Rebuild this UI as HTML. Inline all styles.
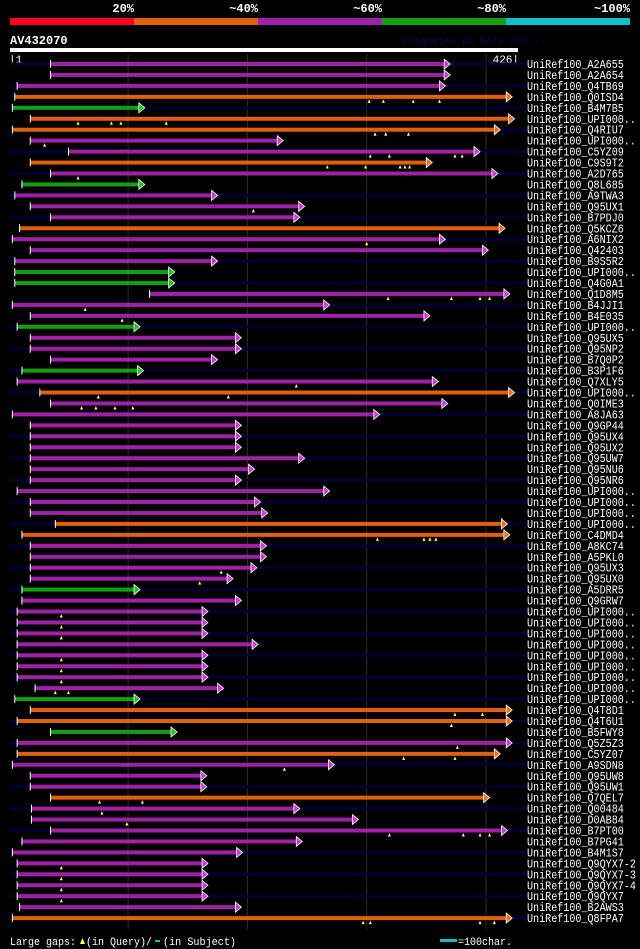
<!DOCTYPE html>
<html><head><meta charset="utf-8"><style>
html,body{margin:0;padding:0;background:#000;}
svg{display:block;}
text{font-family:"Liberation Mono",monospace;}
</style></head><body>
<svg id="chart" width="640" height="949" viewBox="0 0 640 949" xmlns="http://www.w3.org/2000/svg">
<rect x="0" y="0" width="640" height="949" fill="#000"/>
<g>
<rect x="10" y="18" width="124" height="7" fill="#ff0022"/>
<rect x="134" y="18" width="124" height="7" fill="#e06010"/>
<rect x="258" y="18" width="124" height="7" fill="#a020a8"/>
<rect x="382" y="18" width="124" height="7" fill="#10a010"/>
<rect x="506" y="18" width="124" height="7" fill="#10c0c8"/>
<text x="134" y="12" fill="#fff" font-size="12" font-weight="bold" text-anchor="end">20%</text>
<text x="258" y="12" fill="#fff" font-size="12" font-weight="bold" text-anchor="end">~40%</text>
<text x="382" y="12" fill="#fff" font-size="12" font-weight="bold" text-anchor="end">~60%</text>
<text x="506" y="12" fill="#fff" font-size="12" font-weight="bold" text-anchor="end">~80%</text>
<text x="630" y="12" fill="#fff" font-size="12" font-weight="bold" text-anchor="end">~100%</text>
</g>
<text x="10" y="44" fill="#fff" font-size="12" font-weight="bold">AV432070</text>
<text x="402" y="44" fill="#0a0a50" font-size="10">AlignView.pm Beta rel.7</text>
<rect x="10" y="48" width="508" height="4" fill="#fff"/>
<text x="9" y="63" fill="#fff" font-size="11">|1</text>
<text x="519" y="63" fill="#fff" font-size="11" text-anchor="end">426|</text>
<g id="grid"></g>
<g id="rows"></g>
<g>
<text x="10" y="945" fill="#fff" font-size="11" textLength="66" lengthAdjust="spacingAndGlyphs">Large gaps:</text>
<polygon points="80,944 85,944 82.5,938" fill="#ffff66"/>
<text x="86" y="945" fill="#fff" font-size="11" textLength="66" lengthAdjust="spacingAndGlyphs">(in Query)/</text>
<rect x="155" y="940" width="5" height="2" fill="#10c0c8"/>
<text x="163" y="945" fill="#fff" font-size="11" textLength="73" lengthAdjust="spacingAndGlyphs">(in Subject)</text>
<rect x="440" y="939" width="17" height="3" fill="#10c0c8"/>
<text x="458" y="945" fill="#fff" font-size="11" textLength="54" lengthAdjust="spacingAndGlyphs">=100char.</text>
</g>
</svg>
<script>
const names=["A2A655","A2A654","Q4TB69","Q0ISD4","B4M7B5","UPI000..","Q4RIU7","UPI000..","C5YZ09","C9S9T2","A2D765","Q8L685","A9TWA3","Q95UX1","B7PDJ0","Q5KCZ6","A6NIX2","Q42403","B9S5R2","UPI000..","Q4G0A1","Q1D8M5","B4JJI1","B4E035","UPI000..","Q95UX5","Q95NP2","B7Q0P2","B3P1F6","Q7XLY5","UPI000..","Q0IME3","A8JA63","Q9GP44","Q95UX4","Q95UX2","Q95UW7","Q95NU6","Q95NR6","UPI000..","UPI000..","UPI000..","UPI000..","C4DMD4","A8KC74","A5PKL0","Q95UX3","Q95UX0","A5DRR5","Q9GRW7","UPI000..","UPI000..","UPI000..","UPI000..","UPI000..","UPI000..","UPI000..","UPI000..","UPI000..","Q4T8D1","Q4T6U1","B5FWY8","Q5Z5Z3","C5YZ07","A9SDN8","Q95UW8","Q95UW1","Q7QEL7","Q00484","D0AB84","B7PT00","B7PG41","B4M1S7","Q9QYX7-2","Q9QYX7-3","Q9QYX7-4","Q9QYX7","B2AWS3","Q8FPA7"];
const starts=[35,35,7,5,3,18,3,18,50,18,35,11,5,18,35,9,3,18,5,5,5,118,3,18,7,18,18,35,11,7,26,35,3,18,18,18,18,18,18,7,18,18,39,11,18,18,18,18,11,11,7,7,7,7,7,7,7,22,5,18,7,35,7,7,3,18,18,35,19,19,35,11,3,7,7,7,7,9,3];
const ends=[370,370,366,422,114,424,412,230,395,355,410,114,175,248,244,416,366,402,175,139,139,420,269,353,110,195,195,175,113,360,424,368,311,195,195,195,248,206,195,269,211,217,418,420,216,216,208,188,110,195,167,167,167,209,167,167,167,180,110,422,422,141,422,412,273,166,166,403,244,293,418,246,196,167,167,167,167,195,422];
const identity=["p","p","p","o","g","o","o","p","p","o","p","g","p","p","p","o","p","p","p","g","g","p","p","p","g","p","p","p","g","p","o","p","p","p","p","p","p","p","p","p","p","p","o","o","p","p","p","p","g","p","p","p","p","p","p","p","p","p","g","o","o","g","p","o","p","p","p","o","p","p","p","p","p","p","p","p","p","p","o"];
const queryGaps=[[],[],[],[302,314,339,361],[],[58,86,94,132],[307,316,335],[30],[303,319,374,380],[267,299,328,332,336],[58],[],[],[205],[],[],[300],[],[],[],[],[318,371,395,403],[64],[95],[],[],[],[],[],[241],[75,184],[61,73,89,104],[],[],[],[],[],[],[],[],[],[],[],[309,348,353,358],[],[],[178],[160],[],[],[44],[44],[44],[],[44],[44],[44],[39,50],[],[374,397],[371],[],[376],[331,374],[231],[],[],[76,112],[78],[99],[319,381,395,403],[],[],[44],[44],[44],[44],[],[297,303,395,407]];
const colorMap={p:"#a020a8",o:"#e06010",g:"#10a010"};
const headMap={p:"#c040d0",o:"#f07020",g:"#20c020"};
const NS="http://www.w3.org/2000/svg";
function xScale(r){return 10+(r-1)*(507/425);}
function yRow(i){return 64+i*10.95;}
const grid=document.getElementById("grid");
const rows=document.getElementById("rows");
[100,200,300,400].forEach(function(t){
  const l=document.createElementNS(NS,"line");
  
  
  l.setAttribute("x1",xScale(t));l.setAttribute("x2",xScale(t));
  l.setAttribute("y1",54);l.setAttribute("y2",929);
  l.setAttribute("stroke","#30301a");l.setAttribute("stroke-width","1");
  grid.appendChild(l);
});
names.forEach(function(n,i){
  const y=yRow(i);
  const g=document.createElementNS(NS,"g");
  
  
  if(i%2===0){
    const bg=document.createElementNS(NS,"rect");
    
    
    bg.setAttribute("x",10);bg.setAttribute("y",y-1.5);bg.setAttribute("width",517);bg.setAttribute("height",3);
    bg.setAttribute("fill","#000033");
    g.appendChild(bg);
  }
  const x1=xScale(starts[i]),x2=xScale(ends[i]);
  const c=colorMap[identity[i]];
  const b=document.createElementNS(NS,"rect");
  
  
  b.setAttribute("x",x1);b.setAttribute("y",y-2);b.setAttribute("width",Math.max(0,x2-x1-5));b.setAttribute("height",4);
  b.setAttribute("fill",c);
  g.appendChild(b);
  const h=document.createElementNS(NS,"polygon");
  
  
  h.setAttribute("points",(x2-6)+","+(y-5)+" "+x2+","+y+" "+(x2-6)+","+(y+5));
  h.setAttribute("fill",headMap[identity[i]]);h.setAttribute("stroke","#fff");h.setAttribute("stroke-width","0.8");
  g.appendChild(h);
  const t=document.createElementNS(NS,"rect");
  
  
  t.setAttribute("x",x1-0.5);t.setAttribute("y",y-4);t.setAttribute("width",1);t.setAttribute("height",8);
  t.setAttribute("fill","#fff");
  g.appendChild(t);
  queryGaps[i].forEach(function(q){
    const m=document.createElementNS(NS,"polygon");
    
    
    const gx=xScale(q);
    m.setAttribute("points",(gx-1.5)+","+(y+6)+" "+(gx+1.5)+","+(y+6)+" "+gx+","+(y+2.5));
    m.setAttribute("fill","#ffff66");
    g.appendChild(m);
  });
  const lab=document.createElementNS(NS,"text");
  
  
  const s="UniRef100_"+n;
  lab.setAttribute("x",527);lab.setAttribute("y",y+4);
  lab.setAttribute("fill","#fff");lab.setAttribute("font-size","11.5");
  lab.setAttribute("textLength",(s.length*6.05).toFixed(1));
  lab.setAttribute("lengthAdjust","spacingAndGlyphs");
  lab.textContent=s;
  g.appendChild(lab);
  rows.appendChild(g);
});
</script>
</body></html>
